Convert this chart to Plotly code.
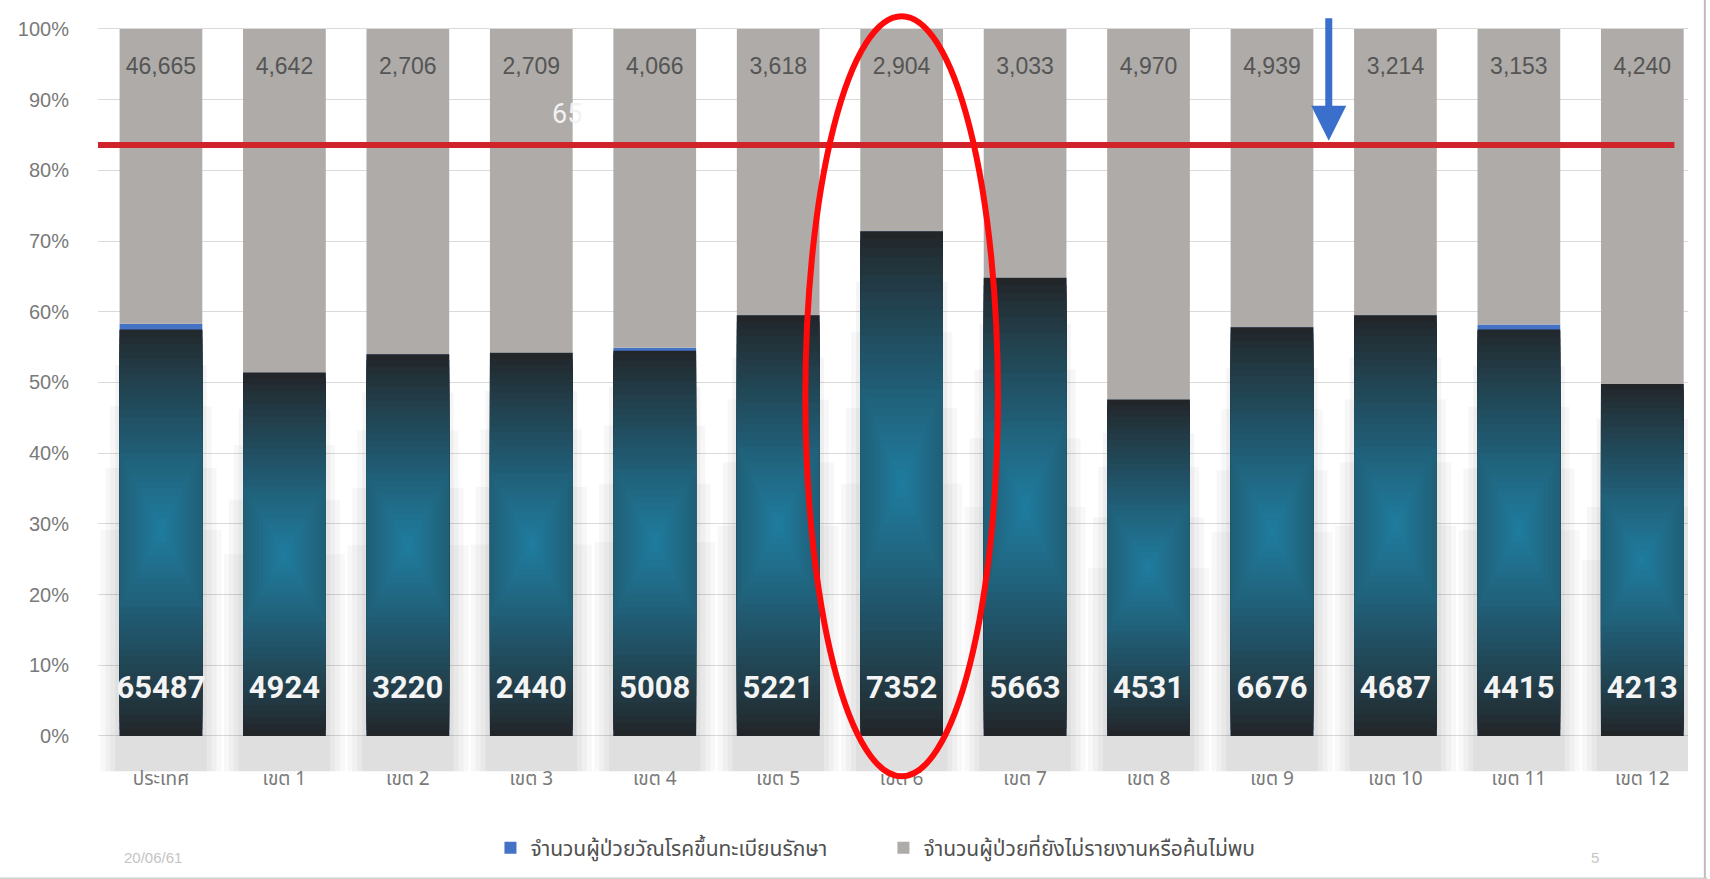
import plotly.graph_objects as go

categories = ["ประเทศ", "เขต 1", "เขต 2", "เขต 3", "เขต 4", "เขต 5", "เขต 6",
              "เขต 7", "เขต 8", "เขต 9", "เขต 10", "เขต 11", "เขต 12"]
registered = [65487, 4924, 3220, 2440, 5008, 5221, 7352, 5663, 4531, 6676, 4687, 4415, 4213]
not_found = [46665, 4642, 2706, 2709, 4066, 3618, 2904, 3033, 4970, 4939, 3214, 3153, 4240]
# share of registered patients as drawn
registered_share = [0.583, 0.514, 0.540, 0.542, 0.549, 0.595, 0.714, 0.648, 0.476, 0.578, 0.595, 0.582, 0.498]
# part of the blue series left visible above the dark overlay
blue_visible = [0.008, 0, 0, 0, 0.004, 0, 0, 0, 0, 0, 0, 0.007, 0]
target = 0.836
tick_vals = [i / 10 for i in range(11)]
tick_text = [f"{i*10}%" for i in range(11)]

series_names = ["จำนวนผู้ป่วยวัณโรคขึ้นทะเบียนรักษา", "จำนวนผู้ป่วยที่ยังไม่รายงานหรือค้นไม่พบ"]

xs = list(range(len(categories)))
BW = 0.67

fig = go.Figure()

# soft shadow behind dark bars
for w, frac, a in [(0.98, 0.5, 0.035), (0.9, 0.65, 0.04), (0.82, 0.8, 0.045), (0.74, 0.9, 0.05)]:
    fig.add_trace(go.Bar(x=xs, y=[s * frac + 0.05 for s in registered_share], base=-0.05,
                         width=w, marker=dict(color=f"rgba(60,60,60,{a})", line_width=0),
                         showlegend=False, hoverinfo="skip"))

# blue series (legend colour)
fig.add_trace(go.Bar(x=xs, y=registered_share, base=0, width=BW, name=series_names[0],
                     marker=dict(color="#4472c4", line_width=0)))
# gray series
fig.add_trace(go.Bar(x=xs, y=[1 - s for s in registered_share], base=registered_share, width=BW,
                     name=series_names[1], marker=dict(color="#aeaba8", line_width=0)))

# dark overlay with teal glow
fig.add_trace(go.Bar(x=xs, y=[s - g for s, g in zip(registered_share, blue_visible)], base=0, width=BW,
                     marker=dict(color="#232629", line_width=0), showlegend=False, hoverinfo="skip"))

def mix(c1, c2, t):
    return "rgb(%d,%d,%d)" % tuple(round(a + (b - a) * t) for a, b in zip(c1, c2))

dark = (35, 38, 41)
teal = (31, 124, 158)
N = 28
for i in range(1, N + 1):
    t = i / N
    hh_f = 0.49 * (1 - t) + 0.012
    w = min(BW, BW * 2.6 * (1 - t) + 0.04)
    col = mix(dark, teal, t ** 0.9)
    bases = [s * 0.5 - s * hh_f for s in registered_share]
    heights = [2 * s * hh_f for s in registered_share]
    fig.add_trace(go.Bar(x=xs, y=heights, base=bases, width=w,
                         marker=dict(color=col, line_width=0), showlegend=False, hoverinfo="skip"))

# labels
fig.add_trace(go.Scatter(x=xs, y=[0.945] * len(xs), mode="text",
                         text=[f"{v:,}" for v in not_found],
                         textfont=dict(family="Liberation Sans, Arial", size=23, color="#555555"),
                         showlegend=False, hoverinfo="skip"))
fig.add_trace(go.Scatter(x=xs, y=[0.064] * len(xs), mode="text",
                         text=[str(v) for v in registered],
                         textfont=dict(family="Liberation Sans Narrow, Roboto", size=31, color="#f4f4f4",
                                       weight="bold"),
                         showlegend=False, hoverinfo="skip"))
fig.add_trace(go.Scatter(x=xs, y=[-0.062] * len(xs), mode="text", text=categories,
                         textfont=dict(family="Noto Sans Thai, Noto Sans, DejaVu Sans", size=19, color="#7a7a7a"),
                         showlegend=False, hoverinfo="skip"))

# target line
fig.add_shape(type="line", xref="x", yref="y", x0=-0.57, x1=12.26, y0=target, y1=target,
              line=dict(color="#d0232a", width=6), layer="above")
# highlight ellipse
fig.add_shape(type="circle", xref="x", yref="y", x0=5.22, x1=6.78, y0=-0.057, y1=1.018,
              line=dict(color="#ff0a0a", width=6), layer="above")

fig.add_annotation(x=9.46, y=target + 0.006, xref="x", yref="y", ax=0, ay=-124, axref="pixel", ayref="pixel",
                   text="", showarrow=True, arrowhead=2, arrowsize=1.0, arrowwidth=7,
                   arrowcolor="#3a6fcb", standoff=0)
fig.add_annotation(x=3.15, y=0.88, xref="x", yref="y", text="65", showarrow=False,
                   font=dict(family="Liberation Sans Narrow, Roboto", size=27, color="#f2f2f2"),
                   xanchor="left")
fig.add_annotation(xref="paper", yref="paper", x=0.015, y=-0.1, xanchor="left", text="20/06/61",
                   showarrow=False, font=dict(size=15, color="#c4c4c4"))
fig.add_annotation(xref="paper", yref="paper", x=0.945, y=-0.1, text="5", showarrow=False,
                   font=dict(size=15, color="#c4c4c4"))

# frame lines
fig.add_shape(type="line", xref="paper", yref="paper", x0=1.0106, x1=1.0106, y0=-0.12, y1=1,
              line=dict(color="#bdbdbd", width=2))
fig.add_shape(type="line", xref="paper", yref="paper", x0=-0.07, x1=1.012, y0=-0.114, y1=-0.114,
              line=dict(color="#cfcfcf", width=3))

fig.update_layout(
    width=1710, height=879,
    margin=dict(l=98, r=22, t=0, b=90),
    barmode="overlay",
    plot_bgcolor="white", paper_bgcolor="white",
    font=dict(family="Liberation Sans, Noto Sans, DejaVu Sans", color="#7a7a7a"),
    xaxis=dict(range=[-0.51, 12.37], showticklabels=False, showgrid=False, zeroline=False, ticks=""),
    yaxis=dict(range=[-0.075, 1.041], tickvals=tick_vals, ticktext=tick_text,
               showgrid=True, gridcolor="#dadada", gridwidth=1, zeroline=False,
               ticks="outside", ticklen=0, ticklabelstandoff=24,
               tickfont=dict(size=20, color="#7a7a7a", family="Liberation Sans, Arial")),
    legend=dict(orientation="h", x=0.494, xanchor="center", y=-0.075, yanchor="middle",
                font=dict(size=21, color="#505050", family="Noto Sans Thai, Noto Sans, DejaVu Sans"),
                entrywidth=348, entrywidthmode="pixels", bgcolor="rgba(0,0,0,0)"),
    showlegend=True,
)

fig.write_html("out.html")
